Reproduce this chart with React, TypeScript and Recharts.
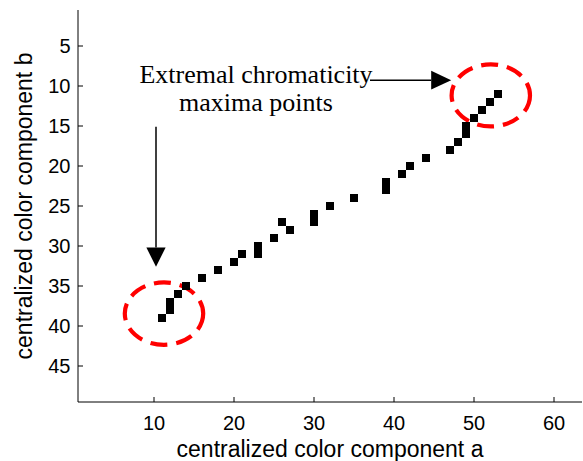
import React from 'react';
import {
  ScatterChart,
  Scatter,
  XAxis,
  YAxis,
  ReferenceArea,
  ReferenceLine,
  ReferenceDot,
} from 'recharts';

// ---- data ----
const aValues = [11, 12, 12, 13, 14, 16, 18, 20, 21, 23, 23, 25, 26, 27, 30, 30, 32, 35, 39, 39, 41, 42, 44, 47, 48, 49, 49, 50, 51, 52, 53];
const bValues = [39, 37, 38, 36, 35, 34, 33, 32, 31, 30, 31, 29, 27, 28, 26, 27, 25, 24, 22, 23, 21, 20, 19, 18, 17, 15, 16, 14, 13, 12, 11];
const xTicks = [10, 20, 30, 40, 50, 60];
const yTicks = [5, 10, 15, 20, 25, 30, 35, 40, 45];
const xDomain: [number, number] = [0.5, 63.5];
const yDomain: [number, number] = [0.5, 49.5];
const xLabel = 'centralized color component a';
const yLabel = 'centralized color component b';
const annotationLines = ['Extremal chromaticity', 'maxima points'];
const annotationAnchor = { a: 22.75, b: 9.625 };
const highlightEllipses = [
  { a1: 6.35, a2: 16.15, b1: 34.55, b2: 42.35 },
  { a1: 47.2, a2: 57.0, b1: 7.3, b2: 15.05 },
];
const downArrow = { a: 10.25, bFrom: 15.1, bHeadBase: 30.2, bTip: 32.6, halfWidth: 1.2 };
const rightArrow = { b: 9.27, aFrom: 37.0, aHeadBase: 44.65, aTip: 47.15, halfHeight: 1.17 };

const points = aValues.map((a, i) => ({ a, b: bValues[i] }));

const SANS = '"Liberation Sans", Arial, sans-serif';
const SERIF = '"Liberation Serif", "Times New Roman", serif';

const BottomTick = (props: any) => {
  const { x, y, payload } = props;
  return (
    <g>
      <line x1={x} y1={y} x2={x} y2={y - 5} stroke="#000" strokeWidth={1} />
      <text x={x} y={y + 27.5} textAnchor="middle" fontSize={20} fontFamily={SANS} fill="#000">
        {payload.value}
      </text>
    </g>
  );
};
const TopTick = (props: any) => {
  const { x, y } = props;
  return <line x1={x} y1={y} x2={x} y2={y + 5} stroke="#000" strokeWidth={1} />;
};
const LeftTick = (props: any) => {
  const { x, y, payload } = props;
  return (
    <g>
      <line x1={x} y1={y} x2={x + 5} y2={y} stroke="#000" strokeWidth={1} />
      <text x={x - 7.5} y={y + 7} textAnchor="end" fontSize={20} fontFamily={SANS} fill="#000">
        {payload.value}
      </text>
    </g>
  );
};
const RightTick = (props: any) => {
  const { x, y } = props;
  return <line x1={x} y1={y} x2={x - 5} y2={y} stroke="#000" strokeWidth={1} />;
};

const SquareMarker = (props: any) => {
  const { cx, cy } = props;
  return <rect x={cx - 4} y={cy - 4} width={8} height={8} fill="#000" />;
};

const EllipseShape = (props: any) => {
  const { x, y, width, height } = props;
  return (
    <ellipse
      cx={x + width / 2}
      cy={y + height / 2}
      rx={width / 2}
      ry={height / 2}
      fill="none"
      stroke="#ff0000"
      strokeWidth={4.2}
      strokeDasharray="17 9"
    />
  );
};

const DownHead = (props: any) => {
  const { x, y, width, height } = props;
  return <polygon points={`${x},${y} ${x + width},${y} ${x + width / 2},${y + height}`} fill="#000" />;
};
const RightHead = (props: any) => {
  const { x, y, width, height } = props;
  return <polygon points={`${x},${y} ${x},${y + height} ${x + width},${y + height / 2}`} fill="#000" />;
};

const AnnotationText = (props: any) => {
  const { cx, cy } = props;
  return (
    <text x={cx} y={cy} textAnchor="middle" fontSize={26} fontFamily={SERIF} fill="#000">
      {annotationLines.map((line, i) => (
        <tspan key={i} x={cx} dy={i === 0 ? 0 : 28}>
          {line}
        </tspan>
      ))}
    </text>
  );
};

const XLabel = (props: any) => {
  const vb = props.viewBox || {};
  return (
    <text x={vb.x + vb.width / 2} y={vb.y + 54.5} textAnchor="middle" fontSize={23} fontFamily={SANS} fill="#000">
      {xLabel}
    </text>
  );
};
const YLabel = (props: any) => {
  const vb = props.viewBox || {};
  const cx = vb.x + 31.5;
  const cy = vb.y + vb.height / 2;
  return (
    <text x={cx} y={cy} transform={`rotate(-90, ${cx}, ${cy})`} textAnchor="middle" fontSize={23} fontFamily={SANS} fill="#000">
      {yLabel}
    </text>
  );
};

export default function App() {
  return (
    <div style={{ position: 'absolute', left: 0, top: 0, width: 583, height: 461, background: '#fff' }}>
      <ScatterChart width={583} height={461} margin={{ top: 10, right: 1, bottom: 0, left: 0 }}>
        <XAxis
          dataKey="a"
          type="number"
          domain={xDomain}
          ticks={xTicks}
          interval={0}
          allowDataOverflow
          height={59}
          tickSize={0}
          tickMargin={0}
          tickLine={false}
          tick={BottomTick}
          axisLine={{ stroke: '#000', strokeWidth: 1 }}
          label={{ content: XLabel }}
        />
        <XAxis
          xAxisId="top"
          orientation="top"
          type="number"
          domain={xDomain}
          ticks={xTicks}
          interval={0}
          allowDataOverflow
          height={0}
          tickSize={0}
          tickMargin={0}
          tickLine={false}
          tick={TopTick}
          axisLine={{ stroke: '#000', strokeWidth: 1 }}
        />
        <YAxis
          dataKey="b"
          type="number"
          domain={yDomain}
          reversed
          ticks={yTicks}
          interval={0}
          allowDataOverflow
          width={78}
          tickSize={0}
          tickMargin={0}
          tickLine={false}
          tick={LeftTick}
          axisLine={{ stroke: '#000', strokeWidth: 1 }}
          label={{ content: YLabel }}
        />
        <YAxis
          yAxisId="right"
          orientation="right"
          type="number"
          domain={yDomain}
          reversed
          ticks={yTicks}
          interval={0}
          allowDataOverflow
          width={0}
          tickSize={0}
          tickMargin={0}
          tickLine={false}
          tick={RightTick}
          axisLine={{ stroke: '#000', strokeWidth: 1 }}
        />
        <Scatter data={points} shape={SquareMarker} isAnimationActive={false} />
        {highlightEllipses.map((e, i) => (
          <ReferenceArea key={`e${i}`} x1={e.a1} x2={e.a2} y1={e.b1} y2={e.b2} shape={EllipseShape} ifOverflow="visible" />
        ))}
        <ReferenceLine
          segment={[
            { x: downArrow.a, y: downArrow.bFrom },
            { x: downArrow.a, y: downArrow.bHeadBase },
          ]}
          stroke="#000"
          strokeWidth={1.5}
          ifOverflow="visible"
        />
        <ReferenceArea
          x1={downArrow.a - downArrow.halfWidth}
          x2={downArrow.a + downArrow.halfWidth}
          y1={downArrow.bHeadBase}
          y2={downArrow.bTip}
          shape={DownHead}
          ifOverflow="visible"
        />
        <ReferenceLine
          segment={[
            { x: rightArrow.aFrom, y: rightArrow.b },
            { x: rightArrow.aHeadBase, y: rightArrow.b },
          ]}
          stroke="#000"
          strokeWidth={1.5}
          ifOverflow="visible"
        />
        <ReferenceArea
          x1={rightArrow.aHeadBase}
          x2={rightArrow.aTip}
          y1={rightArrow.b - rightArrow.halfHeight}
          y2={rightArrow.b + rightArrow.halfHeight}
          shape={RightHead}
          ifOverflow="visible"
        />
        <ReferenceDot x={annotationAnchor.a} y={annotationAnchor.b} shape={AnnotationText} ifOverflow="visible" />
      </ScatterChart>
    </div>
  );
}
